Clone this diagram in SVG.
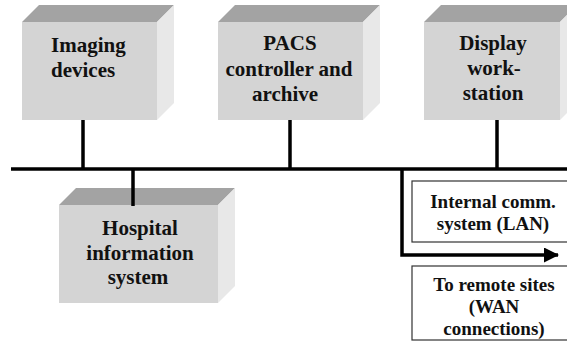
<svg xmlns="http://www.w3.org/2000/svg" width="567" height="341" viewBox="0 0 567 341">
  <style>
    .front { fill: #d4d4d4; }
    .top { fill: #a3a3a3; }
    .side { fill: #e8e8e8; }
    text { font-weight: bold; fill: #111; }
    .big { font-size: 21px; text-anchor: middle; }
    .left { font-size: 21px; }
    .small { font-size: 19px; text-anchor: middle; }
    .wire { stroke: #000; stroke-width: 3.5; fill: none; }
    .panel { fill: #fff; stroke: #333; stroke-width: 1.2; }
  </style>
  <defs>
    <marker id="arrow" markerWidth="16" markerHeight="15" refX="14" refY="7.5" orient="auto" markerUnits="userSpaceOnUse">
      <path d="M0,0 L15,7.5 L0,15 Z" fill="#000"/>
    </marker>
  </defs>

  <rect width="567" height="341" fill="#fff"/>

  <!-- connectors: backbone, drops and outbound link -->
  <g id="connectors">
    <line class="wire" x1="11" y1="169" x2="567" y2="169" stroke-width="4"/>
    <line class="wire" x1="83" y1="119" x2="83" y2="169"/>
    <line class="wire" x1="290" y1="119" x2="290" y2="169"/>
    <line class="wire" x1="497" y1="119" x2="497" y2="169"/>
    <line class="wire" x1="133" y1="169" x2="133" y2="206"/>
    <path class="wire" d="M402,169 V255 H558" marker-end="url(#arrow)"/>
  </g>

  <g font-family="Liberation Serif, Times New Roman, Times, DejaVu Serif, serif">
  <g id="imaging-devices">
    <polygon class="top" points="22,22 39,5 174,5 157,22"/>
    <polygon class="side" points="157,22 174,5 174,103 157,120"/>
    <rect class="front" x="22" y="22" width="135" height="98"/>
    <text class="left" x="51" y="52">Imaging</text>
    <text class="left" x="51" y="77">devices</text>
  </g>

  <g id="pacs-controller">
    <polygon class="top" points="218,22 235,5 380,5 363,22"/>
    <polygon class="side" points="363,22 380,5 380,103 363,120"/>
    <rect class="front" x="218" y="22" width="145" height="98"/>
    <text class="big" x="290" y="50">PACS</text>
    <text class="big" x="289" y="76">controller and</text>
    <text class="big" x="285" y="101">archive</text>
  </g>

  <g id="display-workstation">
    <polygon class="top" points="424,22 441,5 577,5 560,22"/>
    <polygon class="side" points="560,22 577,5 577,103 560,120"/>
    <rect class="front" x="424" y="22" width="136" height="98"/>
    <text class="big" x="493" y="50">Display</text>
    <text class="big" x="494" y="75">work-</text>
    <text class="big" x="493" y="100">station</text>
  </g>

  <g id="hospital-information-system">
    <polygon class="top" points="59,205 76,188 235,188 218,205"/>
    <polygon class="side" points="218,205 235,188 235,286 218,303"/>
    <rect class="front" x="59" y="205" width="159" height="98"/>
    <line class="wire" x1="133" y1="188" x2="133" y2="206"/>
    <text class="big" x="140" y="235">Hospital</text>
    <text class="big" x="140" y="260">information</text>
    <text class="big" x="138" y="284">system</text>
  </g>

  <g id="internal-lan">
    <rect class="panel" x="412" y="181" width="160" height="61"/>
    <text class="small" x="493" y="208">Internal comm.</text>
    <text class="small" x="493" y="230">system (LAN)</text>
  </g>

  <g id="remote-wan">
    <rect class="panel" x="412" y="266" width="160" height="74"/>
    <text class="small" x="494" y="291">To remote sites</text>
    <text class="small" x="494" y="313">(WAN</text>
    <text class="small" x="494" y="335">connections)</text>
  </g>
  </g>
</svg>
